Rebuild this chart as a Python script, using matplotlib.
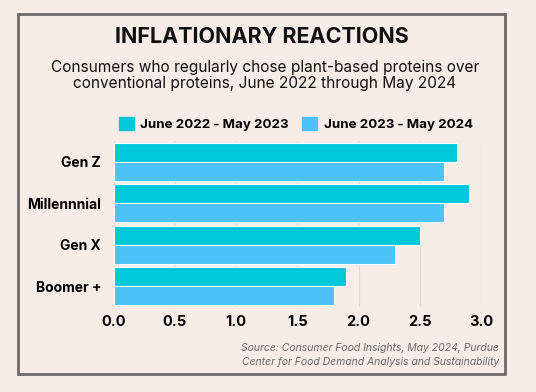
import matplotlib
matplotlib.use("Agg")
import matplotlib.pyplot as plt
from matplotlib.patches import Rectangle, Patch

categories = ["Gen Z", "Millennnial", "Gen X", "Boomer +"]
series_names = ["June 2022 - May 2023", "June 2023 - May 2024"]
values_2023 = [2.8, 2.9, 2.5, 1.9]
values_2024 = [2.7, 2.7, 2.3, 1.8]
xticks = [0.0, 0.5, 1.0, 1.5, 2.0, 2.5, 3.0]

c1 = "#00c8d8"
c2 = "#4cc2f8"
bg = "#f8ece7"
font = "Inter"

W, H = 536, 392
fig = plt.figure(figsize=(W/100, H/100), dpi=100)
fig.patch.set_facecolor(bg)

# frame
fig.patches.append(Rectangle((18/W, 1-374/H), (505-18)/W, (374-14)/H,
                             transform=fig.transFigure, fill=False,
                             edgecolor="#6e6866", linewidth=2))

fig.text(262/W, 1-37/H, "INFLATIONARY REACTIONS", ha="center", va="center",
         fontsize=15.5, fontweight="bold", family=font, color="#111111")
fig.text(265/W, 1-75.5/H,
         "Consumers who regularly chose plant-based proteins over\nconventional proteins, June 2022 through May 2024",
         ha="center", va="center", fontsize=11.1, family=font, color="#111111",
         linespacing=1.05)

left, right, top, bottom = 113.7, 481, 141, 307
ax = fig.add_axes([left/W, 1-bottom/H, (right-left)/W, (bottom-top)/H])
ax.set_facecolor("none")

y = list(range(len(categories)))
h = 0.46
ax.barh([i - h/2 for i in y], values_2023, height=h, color=c1,
        edgecolor="white", linewidth=0.8, zorder=3)
ax.barh([i + h/2 for i in y], values_2024, height=h, color=c2,
        edgecolor="white", linewidth=0.8, zorder=3)
ax.set_ylim(3.5, -0.5)
ax.set_xlim(0, 3.0)
ax.set_yticks(y)
ax.set_yticklabels(categories, fontsize=10, fontweight="bold", family=font)
ax.set_xticks(xticks)
ax.set_xticklabels([f"{t:.1f}" for t in xticks], fontsize=10.5,
                   fontweight="bold", family=font)
ax.tick_params(length=0, pad=9)
ax.tick_params(axis="x", pad=6)
ax.grid(axis="x", color="#e2d8d4", linewidth=0.8, zorder=0)
for s in ax.spines.values():
    s.set_visible(False)

handles = [Patch(color=c1), Patch(color=c2)]
fig.legend(handles, series_names, loc="center", bbox_to_anchor=(296/W, 1-124/H),
           ncol=2, frameon=False, prop={"family": font, "weight": "bold", "size": 9.6},
           handlelength=1.1, handleheight=1.1, handletextpad=0.5, columnspacing=1.0)

fig.text(499/W, 1-355/H,
         "Source: Consumer Food Insights, May 2024, Purdue\nCenter for Food Demand Analysis and Sustainability",
         ha="right", va="center", fontsize=7.5, style="italic", family=font,
         color="#6a6a6a", linespacing=1.45)

fig.savefig("out.png", dpi=100, facecolor=bg)
